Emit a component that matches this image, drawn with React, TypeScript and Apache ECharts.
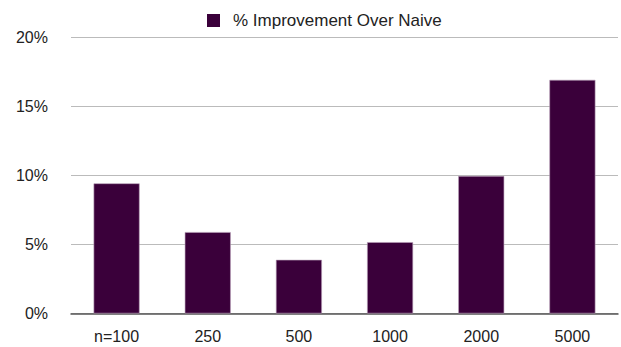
import React, { useEffect, useRef } from "react";
import * as echarts from "echarts";

const categories = ["n=100", "250", "500", "1000", "2000", "5000"];
const improvement = [9.43, 5.9, 3.89, 5.17, 9.96, 16.93];
const yTicks = [0, 5, 10, 15, 20];
const seriesName = "% Improvement Over Naive";

export default function App() {
  const ref = useRef<HTMLDivElement>(null);
  useEffect(() => {
    document.body.style.margin = "0";
    const chart = echarts.init(ref.current!, null, { renderer: "svg" });
    chart.setOption({
      animation: false,
      backgroundColor: "#ffffff",
      textStyle: { fontFamily: "Liberation Sans, Arial, sans-serif" },
      legend: {
        left: 202,
        top: 7,
        icon: "rect",
        itemWidth: 13,
        itemHeight: 13,
        itemStyle: { borderWidth: 0 },
        textStyle: { fontSize: 17, color: "#222", padding: [0, 0, 0, 8] },
        data: [seriesName],
      },
      grid: { left: 71, right: 3, top: 37.5, bottom: 33.5, containLabel: false },
      xAxis: {
        type: "category",
        data: categories,
        axisTick: { show: false },
        axisLine: { lineStyle: { color: "#555", width: 1.5 } },
        axisLabel: { color: "#222", fontSize: 16, margin: 15 },
      },
      yAxis: {
        type: "value",
        min: yTicks[0],
        max: yTicks[yTicks.length - 1],
        interval: 5,
        axisLine: { show: false },
        axisTick: { show: false },
        axisLabel: { color: "#222", fontSize: 16, margin: 23, formatter: "{value}%" },
        splitLine: { lineStyle: { color: "#bbbbbb", width: 1.2 } },
      },
      series: [
        {
          name: seriesName,
          type: "bar",
          data: improvement,
          barWidth: 46,
          itemStyle: { color: "#3a003a", borderColor: "#b9a0b9", borderWidth: 0.6 },
        },
      ],
    });
    return () => chart.dispose();
  }, []);
  return <div ref={ref} style={{ width: 621, height: 347 }} />;
}
